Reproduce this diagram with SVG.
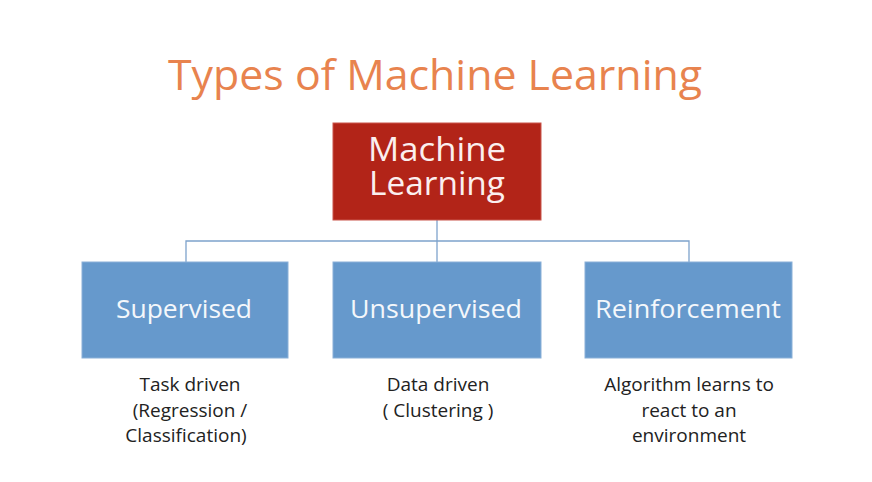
<svg xmlns="http://www.w3.org/2000/svg" width="872" height="482" viewBox="0 0 872 482">
<style>
.title{font-family:"Open Sans","Liberation Sans",sans-serif;font-size:42px;fill:#E8834E;}
.box{fill:#6699CC;stroke:#8AB0D8;stroke-width:1;}
.root{fill:#B22418;stroke:#C9544A;stroke-width:1;}
.lbl{font-family:"Open Sans","Liberation Sans",sans-serif;font-size:26px;fill:#F4F7FB;text-anchor:middle;}
.rlbl{font-family:"Open Sans","Liberation Sans",sans-serif;font-size:32px;fill:#FBEFEF;text-anchor:middle;}
.desc{font-family:"Open Sans","Liberation Sans",sans-serif;font-size:19px;fill:#222;text-anchor:middle;}
.con{stroke:#7EA3CC;stroke-width:1.3;fill:none;}
</style>
<rect width="872" height="482" fill="#FFFFFF"/>
<text class="title" x="168" y="90" textLength="534" lengthAdjust="spacingAndGlyphs">Types of Machine Learning</text>
<g id="connectors">
<path class="con" d="M437 220 V262"/>
<path class="con" d="M186 262 V241 H689 V262"/>
</g>
<g id="machine-learning">
<rect class="root" x="333" y="123" width="208" height="97"/>
<text class="rlbl" x="437" y="161" textLength="138" lengthAdjust="spacingAndGlyphs">Machine</text>
<text class="rlbl" x="437" y="195" textLength="136" lengthAdjust="spacingAndGlyphs">Learning</text>
</g>
<g id="supervised">
<rect class="box" x="82" y="262" width="206" height="96"/>
<text class="lbl" x="184" y="318" textLength="136" lengthAdjust="spacingAndGlyphs">Supervised</text>
<text class="desc" x="190" y="391">Task driven</text>
<text class="desc" x="190" y="417">(Regression /</text>
<text class="desc" x="186" y="442">Classification)</text>
</g>
<g id="unsupervised">
<rect class="box" x="333" y="262" width="208" height="96"/>
<text class="lbl" x="436" y="318" textLength="172" lengthAdjust="spacingAndGlyphs">Unsupervised</text>
<text class="desc" x="438" y="391">Data driven</text>
<text class="desc" x="438" y="417">( Clustering )</text>
</g>
<g id="reinforcement">
<rect class="box" x="585" y="262" width="207" height="96"/>
<text class="lbl" x="688" y="318" textLength="186" lengthAdjust="spacingAndGlyphs">Reinforcement</text>
<text class="desc" x="689" y="391">Algorithm learns to</text>
<text class="desc" x="689" y="417">react to an</text>
<text class="desc" x="689" y="442">environment</text>
</g>
</svg>
